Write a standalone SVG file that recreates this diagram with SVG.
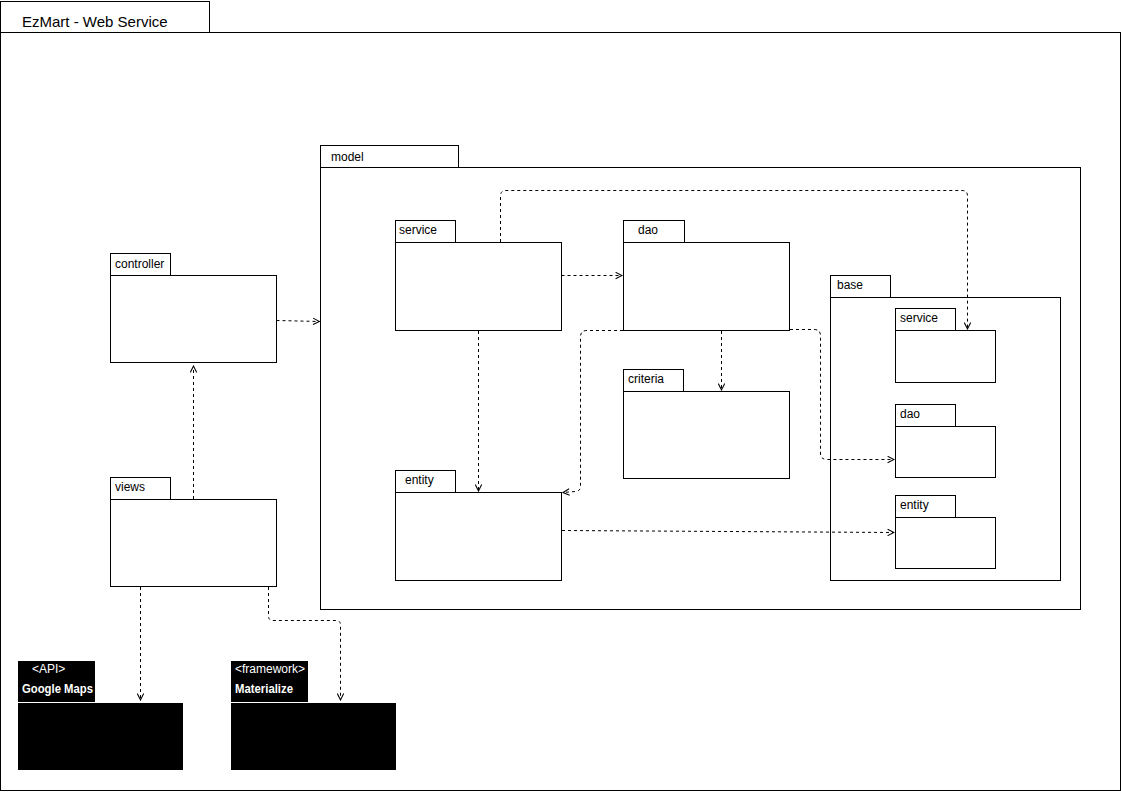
<svg xmlns="http://www.w3.org/2000/svg" width="1121" height="792" viewBox="0 0 1121 792">
  <defs>
    <style>
      .pk { fill: #fff; stroke: #000; stroke-width: 1; }
      .ext { fill: #000; stroke: #000; stroke-width: 1; }
      .lbl { font-family: "Liberation Sans", Arial, sans-serif; font-size: 12px; fill: #000; }
      .title { font-family: "Liberation Sans", Arial, sans-serif; font-size: 15px; fill: #000; }
      .wl { font-family: "Liberation Sans", Arial, sans-serif; font-size: 12px; fill: #fff; }
      .wb { font-family: "Liberation Sans", Arial, sans-serif; font-size: 12px; font-weight: bold; fill: #fff; }
      .dep { fill: none; stroke: #000; stroke-width: 1; stroke-dasharray: 3 3; }
    </style>
    <marker id="open" viewBox="0 0 10 10" refX="9" refY="5" markerWidth="8" markerHeight="8" orient="auto" markerUnits="userSpaceOnUse">
      <path d="M1,1 L9,5 L1,9" fill="none" stroke="#000" stroke-width="1.3"/>
    </marker>
  </defs>

  <rect width="1121" height="792" fill="#fff"/>

  <!-- outer frame -->
  <g id="frame">
    <rect class="pk" x="0.5" y="1.5" width="209" height="31"/>
    <rect class="pk" x="0.5" y="32.5" width="1120" height="758"/>
    <text class="title" x="22" y="27">EzMart - Web Service</text>
  </g>

  <!-- model package -->
  <g id="model">
    <rect class="pk" x="320.5" y="145.5" width="138" height="22"/>
    <rect class="pk" x="320.5" y="167.5" width="760" height="442"/>
    <text class="lbl" x="331" y="161">model</text>
  </g>

  <g id="service">
    <rect class="pk" x="395.5" y="220.5" width="60" height="22"/>
    <rect class="pk" x="395.5" y="242.5" width="166" height="88"/>
    <text class="lbl" x="399" y="234">service</text>
  </g>

  <g id="dao">
    <rect class="pk" x="623.5" y="220.5" width="61" height="22"/>
    <rect class="pk" x="623.5" y="242.5" width="166" height="88"/>
    <text class="lbl" x="638" y="234">dao</text>
  </g>

  <g id="criteria">
    <rect class="pk" x="623.5" y="369.5" width="60" height="22"/>
    <rect class="pk" x="623.5" y="391.5" width="166" height="87"/>
    <text class="lbl" x="628" y="383">criteria</text>
  </g>

  <g id="entity">
    <rect class="pk" x="395.5" y="470.5" width="60" height="22"/>
    <rect class="pk" x="395.5" y="492.5" width="166" height="88"/>
    <text class="lbl" x="405" y="484">entity</text>
  </g>

  <g id="base">
    <rect class="pk" x="830.5" y="275.5" width="60" height="22"/>
    <rect class="pk" x="830.5" y="297.5" width="230" height="283"/>
    <text class="lbl" x="837" y="289">base</text>
  </g>

  <g id="base-service">
    <rect class="pk" x="895.5" y="308.5" width="60" height="22"/>
    <rect class="pk" x="895.5" y="330.5" width="100" height="52"/>
    <text class="lbl" x="900" y="322">service</text>
  </g>

  <g id="base-dao">
    <rect class="pk" x="895.5" y="404.5" width="60" height="22"/>
    <rect class="pk" x="895.5" y="426.5" width="100" height="51"/>
    <text class="lbl" x="900" y="418">dao</text>
  </g>

  <g id="base-entity">
    <rect class="pk" x="895.5" y="495.5" width="60" height="22"/>
    <rect class="pk" x="895.5" y="517.5" width="100" height="51"/>
    <text class="lbl" x="900" y="509">entity</text>
  </g>

  <g id="controller">
    <rect class="pk" x="110.5" y="253.5" width="60" height="22"/>
    <rect class="pk" x="110.5" y="275.5" width="166" height="87"/>
    <text class="lbl" x="115" y="268">controller</text>
  </g>

  <g id="views">
    <rect class="pk" x="110.5" y="477.5" width="60" height="22"/>
    <rect class="pk" x="110.5" y="499.5" width="166" height="87"/>
    <text class="lbl" x="115" y="491">views</text>
  </g>

  <g id="google-maps">
    <rect class="ext" x="18.5" y="661.5" width="76" height="40"/>
    <rect class="ext" x="18.5" y="703.5" width="164" height="66"/>
    <text class="wl" x="32" y="673">&lt;API&gt;</text>
    <text class="wb" x="22" y="693" textLength="71" lengthAdjust="spacingAndGlyphs">Google Maps</text>
  </g>

  <g id="materialize">
    <rect class="ext" x="231.5" y="661.5" width="76" height="40"/>
    <rect class="ext" x="231.5" y="703.5" width="164" height="66"/>
    <text class="wl" x="235" y="673">&lt;framework&gt;</text>
    <text class="wb" x="235" y="693" textLength="58" lengthAdjust="spacingAndGlyphs">Materialize</text>
  </g>

  <!-- dependencies -->
  <g id="connectors">
    <path class="dep" marker-end="url(#open)" d="M276.5,320.5 L319.5,321.5"/>
    <path class="dep" marker-end="url(#open)" d="M193.5,499 L193.5,366"/>
    <path class="dep" marker-end="url(#open)" d="M140.5,587 L140.5,700"/>
    <path class="dep" marker-end="url(#open)" d="M268.5,587 L268.5,616 Q268.5,620.5 273,620.5 L336,620.5 Q340.5,620.5 340.5,625 L340.5,700"/>
    <path class="dep" marker-end="url(#open)" d="M561.5,275.5 L622,275.5"/>
    <path class="dep" marker-end="url(#open)" d="M478.5,331 L478.5,491"/>
    <path class="dep" marker-end="url(#open)" d="M500.5,242 L500.5,196 Q500.5,190.5 506,190.5 L962,190.5 Q967.5,190.5 967.5,196 L967.5,329"/>
    <path class="dep" marker-end="url(#open)" d="M721.5,331 L721.5,390"/>
    <path class="dep" marker-end="url(#open)" d="M623,330.5 L587,330.5 Q580.5,330.5 580.5,337 L580.5,486 Q580.5,491.5 575,491.5 L563,492.5"/>
    <path class="dep" marker-end="url(#open)" d="M790,329.5 L814,329.5 Q820.5,329.5 820.5,336 L820.5,453 Q820.5,459.5 827,459.5 L894,459.5"/>
    <path class="dep" marker-end="url(#open)" d="M562,530.5 L894,532.5"/>
  </g>
</svg>
